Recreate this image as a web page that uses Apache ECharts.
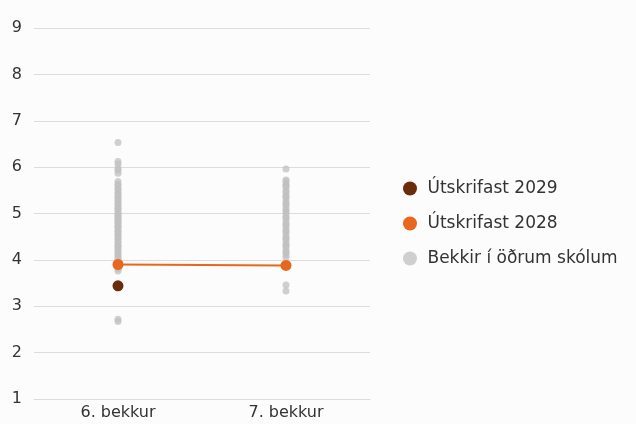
<!DOCTYPE html>
<html>
<head>
<meta charset="utf-8">
<script src="https://cdn.jsdelivr.net/npm/echarts@6/dist/echarts.min.js"></script>
<style>
  html, body { margin: 0; padding: 0; background: #fcfcfc; }
  #chart { width: 636px; height: 424px; }
</style>
</head>
<body>
<div id="chart"></div>
<script>
const categories = ['6. bekkur', '7. bekkur'];
const seriesNames = ['Útskrifast 2029', 'Útskrifast 2028', 'Bekkir í öðrum skólum'];

// Class averages of the graduating cohorts
const cohort2029 = [3.44, null];
const cohort2028 = [3.90, 3.88];

// Averages of classes in other schools, per grade
const otherSchools6 = [6.53, 6.12, 6.06, 5.97, 5.93, 5.87, 5.69, 5.63, 5.6, 5.54, 5.51, 5.45, 5.43, 5.37,
  5.35, 5.29, 5.27, 5.21, 5.19, 5.13, 5.11, 5.07, 5.01, 4.99, 4.94, 4.93, 4.87, 4.86, 4.81, 4.79, 4.74,
  4.71, 4.69, 4.63, 4.61, 4.55, 4.53, 4.47, 4.45, 4.39, 4.37, 4.31, 4.29, 4.25, 4.19, 4.17, 4.11, 4.09,
  4.03, 4.01, 3.95, 3.91, 3.85, 3.81, 3.76, 2.72, 2.67];
const otherSchools7 = [5.96, 5.72, 5.69, 5.63, 5.6, 5.56, 5.49, 5.46, 5.39, 5.36, 5.31, 5.24, 5.21, 5.16,
  5.09, 5.06, 5.01, 4.94, 4.91, 4.86, 4.79, 4.76, 4.71, 4.64, 4.61, 4.56, 4.49, 4.46, 4.41, 4.34, 4.31,
  4.26, 4.19, 4.16, 4.11, 4.05, 3.46, 3.33];

const yTicks = { min: 1, max: 9, interval: 1 };

const otherPoints = []
  .concat(otherSchools6.map(v => [categories[0], v]))
  .concat(otherSchools7.map(v => [categories[1], v]));

const FONT = '"DejaVu Sans", sans-serif';
const TEXT = '#333';
const chart = echarts.init(document.getElementById('chart'));
chart.setOption({
  backgroundColor: '#fcfcfc',
  animation: false,
  textStyle: { fontFamily: FONT },
  grid: { left: 34, right: 266, top: 28, bottom: 25, containLabel: false },
  legend: {
    orient: 'vertical',
    left: 403,
    top: 180,
    padding: 0,
    itemWidth: 25,
    itemHeight: 14,
    itemGap: 18,
    icon: 'circle',
    data: seriesNames,
    textStyle: { fontFamily: FONT, fontSize: 17, lineHeight: 16, color: TEXT }
  },
  xAxis: {
    type: 'category',
    data: categories,
    axisLine: { show: true, lineStyle: { color: '#dcdcdc' } },
    axisTick: { show: false },
    axisLabel: { fontFamily: FONT, fontSize: 16, color: TEXT, margin: 6 }
  },
  yAxis: {
    type: 'value',
    min: yTicks.min,
    max: yTicks.max,
    interval: yTicks.interval,
    axisLine: { show: false },
    axisTick: { show: false },
    splitLine: { lineStyle: { color: '#dcdcdc', width: 1 } },
    axisLabel: { fontFamily: FONT, fontSize: 16, color: TEXT, margin: 12 }
  },
  series: [
    {
      name: seriesNames[2],
      type: 'scatter',
      data: otherPoints,
      symbolSize: 7,
      itemStyle: { color: '#c0c0c0', opacity: 0.75 },
      z: 1
    },
    {
      name: seriesNames[1],
      type: 'line',
      data: cohort2028,
      symbol: 'circle',
      symbolSize: 11,
      lineStyle: { color: '#e8671c', width: 2 },
      itemStyle: { color: '#e8671c' },
      z: 3
    },
    {
      name: seriesNames[0],
      type: 'line',
      data: cohort2029,
      symbol: 'circle',
      symbolSize: 11,
      showAllSymbol: true,
      lineStyle: { color: '#6b2c0c', width: 2 },
      itemStyle: { color: '#6b2c0c' },
      z: 4
    }
  ]
});
</script>
</body>
</html>
